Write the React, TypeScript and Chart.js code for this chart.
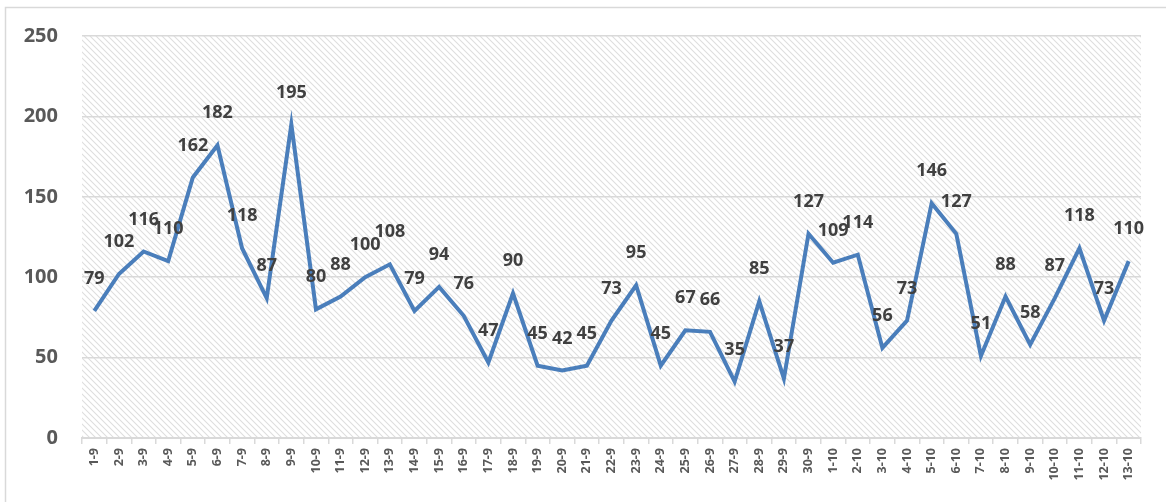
import React, { useEffect, useRef } from "react";
import { Chart, registerables } from "chart.js";

Chart.register(...registerables);

const categories = [
  "1-9","2-9","3-9","4-9","5-9","6-9","7-9","8-9","9-9","10-9",
  "11-9","12-9","13-9","14-9","15-9","16-9","17-9","18-9","19-9","20-9",
  "21-9","22-9","23-9","24-9","25-9","26-9","27-9","28-9","29-9","30-9",
  "1-10","2-10","3-10","4-10","5-10","6-10","7-10","8-10","9-10","10-10",
  "11-10","12-10","13-10",
];

const values = [
  79,102,116,110,162,182,118,87,195,80,
  88,100,108,79,94,76,47,90,45,42,
  45,73,95,45,67,66,35,85,37,127,
  109,114,56,73,146,127,51,88,58,87,
  118,73,110,
];

const yTicks = [0, 50, 100, 150, 200, 250];

const FONT = "'Noto Sans', 'DejaVu Sans', sans-serif";

function makePattern(ctx: CanvasRenderingContext2D) {
  const size = 6;
  const c = document.createElement("canvas");
  c.width = size;
  c.height = size;
  const p = c.getContext("2d")!;
  p.fillStyle = "#ffffff";
  p.fillRect(0, 0, size, size);
  p.strokeStyle = "#dedede";
  p.lineWidth = 1.1;
  p.beginPath();
  p.moveTo(-1, -1);
  p.lineTo(size + 1, size + 1);
  p.moveTo(-1, size - 1);
  p.lineTo(1, size + 1);
  p.moveTo(size - 1, -1);
  p.lineTo(size + 1, 1);
  p.stroke();
  return ctx.createPattern(c, "repeat");
}

const bgPlugin = {
  id: "hatchBg",
  beforeDraw(chart: any) {
    const { ctx, chartArea } = chart;
    ctx.save();
    ctx.strokeStyle = "#d9d9d9";
    ctx.lineWidth = 1.5;
    ctx.beginPath();
    ctx.moveTo(5.5, 600);
    ctx.lineTo(5.5, 7.5);
    ctx.lineTo(1300, 7.5);
    ctx.stroke();
    const pat = makePattern(ctx);
    if (pat) {
      ctx.fillStyle = pat;
      ctx.fillRect(chartArea.left, chartArea.top, chartArea.right - chartArea.left, chartArea.bottom - chartArea.top);
    }
    ctx.restore();
  },
};

const labelPlugin = {
  id: "valueLabels",
  afterDatasetsDraw(chart: any) {
    const { ctx } = chart;
    const meta = chart.getDatasetMeta(0);
    const data = chart.data.datasets[0].data as number[];
    ctx.save();
    ctx.font = `bold 18px ${FONT}`;
    ctx.fillStyle = "#404040";
    ctx.textAlign = "center";
    ctx.textBaseline = "middle";
    meta.data.forEach((pt: any, i: number) => {
      ctx.fillText(String(data[i]), pt.x, pt.y - 32);
    });
    ctx.restore();
  },
};

export default function App() {
  const ref = useRef<HTMLCanvasElement | null>(null);
  useEffect(() => {
    document.body.style.margin = "0";
    const chart = new Chart(ref.current!, {
      type: "line",
      data: {
        labels: categories,
        datasets: [
          {
            data: values,
            borderColor: "#4a7ebb",
            borderWidth: 4,
            pointRadius: 0,
            tension: 0,
            fill: false,
          },
        ],
      },
      options: {
        animation: false,
        responsive: false,
        maintainAspectRatio: false,
        layout: { padding: { top: 36, right: 25, left: 0, bottom: 0 } },
        plugins: { legend: { display: false }, tooltip: { enabled: false } },
        scales: {
          x: {
            offset: true,
            afterFit(s: any) {
              s.height = 64;
            },
            grid: {
              offset: true,
              drawOnChartArea: false,
              drawTicks: true,
              tickLength: 6,
              color: "#d9d9d9",
              lineWidth: 1.5,
            },
            border: { display: true, color: "#d9d9d9", width: 2 },
            ticks: {
              autoSkip: false,
              minRotation: 90,
              maxRotation: 90,
              padding: 4,
              color: "#595959",
              font: { family: FONT, size: 12.5, weight: "bold" },
            },
          },
          y: {
            min: 0,
            max: 250,
            afterFit(s: any) {
              s.width = 82;
            },
            afterBuildTicks(s: any) {
              s.ticks = yTicks.map((v) => ({ value: v }));
            },
            grid: { color: "#d9d9d9", lineWidth: 1.5, drawTicks: false },
            border: { display: false },
            ticks: {
              padding: 24,
              color: "#595959",
              font: { family: FONT, size: 20, weight: "bold" },
            },
          },
        },
      },
      plugins: [bgPlugin, labelPlugin],
    });
    return () => chart.destroy();
  }, []);
  return (
    <div style={{ position: "absolute", left: 0, top: 0, width: 1166, height: 502 }}>
      <canvas ref={ref} width={1166} height={502} style={{ display: "block" }} />
    </div>
  );
}
